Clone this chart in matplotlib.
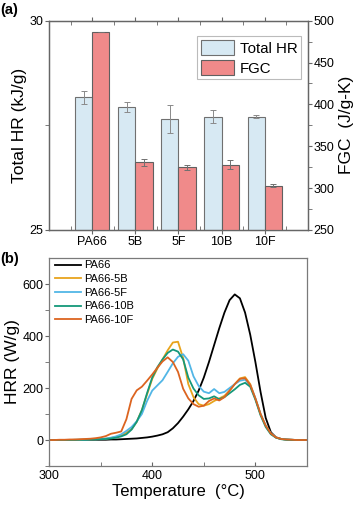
import matplotlib
matplotlib.use("Agg")
import matplotlib.pyplot as plt
import numpy as np

plt.rcParams['font.family'] = ['Liberation Sans', 'DejaVu Sans']

# ---- panel (a) data ----
categories = ["PA66", "5B", "5F", "10B", "10F"]
total_hr = [28.17, 27.93, 27.65, 27.71, 27.71]
total_hr_err = [0.16, 0.12, 0.33, 0.15, 0.04]
fgc = [487, 331, 325, 328, 303]
fgc_err = [0, 4, 3, 5, 2]

# ---- panel (b) data ----
temperature = list(range(300, 551, 5))
hrr_pa66 = [0, 0, 0, 0, 0, 0, 0, 0, 0, 1, 1, 1, 2, 2, 3, 4, 5, 6, 8, 10,
            13, 17, 22, 30, 45, 65, 90, 118, 150, 190, 240, 300, 365, 430, 490, 538,
            560, 545, 490, 405, 300, 185, 85, 30, 10, 4, 2, 1, 0, 0, 0]
hrr_5b = [0, 0, 0, 0, 0, 1, 1, 2, 2, 3, 4, 5, 8, 12, 18, 28, 42, 70, 115, 175,
          235, 275, 310, 345, 375, 378, 315, 215, 165, 138, 132, 138, 150, 160, 170, 190,
          215, 237, 242, 215, 160, 100, 55, 25, 10, 4, 2, 1, 0, 0, 0]
hrr_5f = [0, 0, 0, 0, 0, 1, 1, 1, 2, 3, 4, 6, 9, 14, 22, 35, 50, 72, 100, 150,
          190, 210, 230, 262, 295, 320, 330, 305, 245, 208, 186, 180, 196, 180, 185, 200,
          215, 228, 232, 210, 160, 100, 55, 25, 10, 4, 2, 1, 0, 0, 0]
hrr_10b = [0, 0, 0, 0, 0, 0, 1, 1, 2, 2, 3, 4, 6, 9, 14, 22, 40, 70, 115, 180,
           240, 280, 310, 335, 348, 340, 310, 240, 198, 172, 158, 160, 168, 157, 165, 180,
           195, 212, 220, 205, 155, 95, 50, 22, 9, 3, 1, 0, 0, 0, 0]
hrr_10f = [0, 0, 1, 1, 2, 2, 3, 4, 5, 7, 10, 15, 24, 28, 33, 80, 158, 191, 205, 228,
           252, 278, 302, 318, 300, 262, 197, 160, 138, 128, 132, 150, 160, 152, 165, 190,
           215, 235, 238, 212, 160, 100, 55, 25, 10, 4, 2, 1, 0, 0, 0]
series_names = ["PA66", "PA66-5B", "PA66-5F", "PA66-10B", "PA66-10F"]
series_colors = ["#000000", "#E8A41C", "#52B6E6", "#14987A", "#DC6420"]

spine_col = "#666666"

fig = plt.figure(figsize=(3.58, 5.05), dpi=100)

# ---------- panel (a) ----------
ax1 = fig.add_axes([0.1369, 0.5446, 0.7234, 0.4144])
x = np.arange(1, len(categories) + 1)
ax1.bar(x - 0.2, total_hr, width=0.4, color="#D7E9F3", edgecolor="#707070",
        linewidth=0.8, label="Total HR", zorder=2)
ax1.errorbar(x - 0.2, total_hr, yerr=total_hr_err, fmt="none", ecolor="#8a8a8a",
             elinewidth=0.7, capsize=2, capthick=0.7, zorder=3)
ax1.set_ylim(25, 30)
ax1.set_xlim(0, 6)
ax1.set_yticks([25, 30])
ax1.set_yticks([27.5], minor=True)
ax1.set_xticks(x)
ax1.set_xticklabels(categories)
ax1.set_xticks(np.arange(0.5, 6, 1.0), minor=True)
ax1.set_ylabel("Total HR (kJ/g)", fontsize=12.5, labelpad=2)
ax1.tick_params(axis="y", which="both", direction="out", length=3, labelsize=9,
                color=spine_col, pad=1)
ax1.tick_params(axis="x", which="major", direction="out", length=3, labelsize=9,
                color=spine_col, pad=1, top=True)
ax1.tick_params(axis="x", which="minor", direction="in", length=3, color=spine_col, top=True)

ax2 = ax1.twinx()
ax2.bar(x + 0.2, fgc, width=0.4, color="#F08A8A", edgecolor="#606060",
        linewidth=0.8, label="FGC", zorder=2)
ax2.errorbar(x + 0.2, fgc, yerr=fgc_err, fmt="none", ecolor="#707070",
             elinewidth=0.7, capsize=2, capthick=0.7, zorder=3)
ax2.set_ylim(250, 500)
ax2.set_yticks(np.arange(250, 501, 50))
ax2.set_yticks(np.arange(275, 500, 50), minor=True)
ax2.tick_params(axis="y", which="both", direction="out", length=3, labelsize=9,
                color=spine_col, pad=1)
ax2.set_ylabel("FGC  (J/g-K)", fontsize=12.5, labelpad=3)
for ax in (ax1, ax2):
    for s in ax.spines.values():
        s.set_color(spine_col)
        s.set_linewidth(0.9)

h1, l1 = ax1.get_legend_handles_labels()
h2, l2 = ax2.get_legend_handles_labels()
leg = ax2.legend(h1 + h2, l1 + l2, loc="upper right", bbox_to_anchor=(0.985, 0.94),
                 fontsize=10.8, frameon=True, fancybox=False, edgecolor="#aaaaaa",
                 handlelength=2.2, handleheight=1.15, borderpad=0.25, labelspacing=0.3,
                 handletextpad=0.4, borderaxespad=0.2)
leg.get_frame().set_linewidth(0.8)
fig.text(0.0, 0.995, "(a)", fontsize=10.5, fontweight="bold", va="top", ha="left")

# ---------- panel (b) ----------
ax3 = fig.add_axes([0.1369, 0.0772, 0.7206, 0.4119])
all_hrr = [hrr_pa66, hrr_5b, hrr_5f, hrr_10b, hrr_10f]
for vals, name, col in zip(all_hrr, series_names, series_colors):
    ax3.plot(temperature, vals, color=col, linewidth=1.3, label=name)
ax3.set_xlim(300, 550)
ax3.set_ylim(-100, 700)
ax3.set_xticks([300, 400, 500])
ax3.set_xticks([350, 450, 550], minor=True)
ax3.set_yticks([0, 200, 400, 600])
ax3.set_yticks([-100, 100, 300, 500], minor=True)
ax3.tick_params(axis="x", which="both", direction="in", length=3, labelsize=9,
                color=spine_col, pad=3)
ax3.tick_params(axis="y", which="both", direction="out", length=3, labelsize=9,
                color=spine_col, pad=1)
ax3.set_xlabel("Temperature  (°C)", fontsize=12, labelpad=1)
ax3.set_ylabel("HRR (W/g)", fontsize=12.5, labelpad=2)
for s in ax3.spines.values():
    s.set_color("#7a7a7a")
    s.set_linewidth(0.9)
ax3.legend(loc="upper left", frameon=False, fontsize=8, handlelength=2.4,
           labelspacing=0.33, handletextpad=0.3, borderaxespad=0.1,
           bbox_to_anchor=(0.0, 1.015))
fig.text(0.0, 0.5, "(b)", fontsize=10.5, fontweight="bold", va="top", ha="left")

fig.savefig("out.png", dpi=100)
